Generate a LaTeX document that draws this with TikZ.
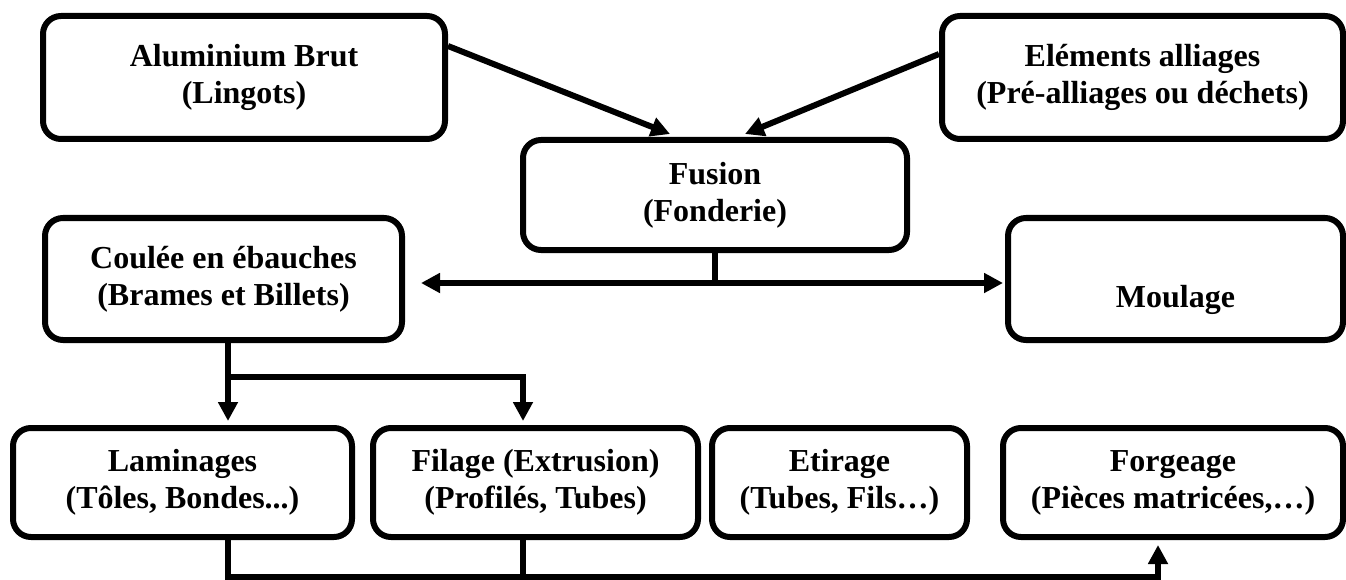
\documentclass[tikz,border=0pt]{standalone}
\usepackage{fontspec}
\setmainfont{Liberation Serif}
\usetikzlibrary{arrows.meta,calc}
\begin{document}
\begin{tikzpicture}[x=1pt,y=-1pt,
  box/.style={draw, line width=6pt, rounded corners=18pt, align=center,
    font=\bfseries\fontsize{32}{37}\selectfont, inner sep=0pt},
  conn/.style={line width=6pt},
  arr/.style={conn, -{Triangle[length=19pt,width=19pt]}},
]
\fill[white] (0,0) rectangle (1346,580);
\useasboundingbox (0,0) rectangle (1346,580);

\node[box, minimum width=402pt, minimum height=123pt] (alu) at (244,77.5) {Aluminium Brut\\(Lingots)};
\node[box, minimum width=401pt, minimum height=123pt] (elem) at (1142.5,77.5) {Eléments alliages\\(Pré-alliages ou déchets)};
\node[box, minimum width=384pt, minimum height=110pt] (fusion) at (715,195) {Fusion\\(Fonderie)};
\node[box, minimum width=357pt, minimum height=122pt] (coulee) at (223.5,279) {Coulée en ébauches\\(Brames et Billets)};
\node[box, minimum width=335pt, minimum height=122pt] (moulage) at (1175.5,279) {\mbox{}\\[28pt]Moulage};
\node[box, minimum width=339pt, minimum height=109pt] (lam) at (182.5,482.5) {Laminages\\(Tôles, Bondes...)};
\node[box, minimum width=325pt, minimum height=109pt] (fil) at (535.5,482.5) {Filage (Extrusion)\\(Profilés, Tubes)};
\node[box, minimum width=255pt, minimum height=109pt] (eti) at (839.5,482.5) {Etirage\\(Tubes, Fils…)};
\node[box, minimum width=340pt, minimum height=109pt] (forg) at (1173,482.5) {Forgeage\\(Pièces matricées,…)};

% top arrows into Fusion
\draw[arr] ($(alu.north east)+(0,33)$) -- ([xshift=-45pt,yshift=3pt]fusion.north);
\draw[arr] ($(elem.north west)+(0,41)$) -- ([xshift=30pt,yshift=3pt]fusion.north);

% Fusion split
\coordinate (j) at (715,283);
\draw[conn] (fusion.south) -- (j);
\draw[arr] (j) -- ([xshift=16pt]coulee.east |- j);
\draw[arr] (j) -- ([xshift=-2pt]moulage.west |- j);

% Coulee split
\coordinate (s1) at (228,377);
\coordinate (s2) at (523,377);
\draw[conn] (s1 |- coulee.south) -- (s1);
\draw[arr] (s1) -- ([yshift=4pt]s1 |- lam.north);
\draw[arr] (s1) -- (s2) -- ([yshift=4pt]s2 |- fil.north);

% bottom collector
\coordinate (b1) at (228,577);
\coordinate (b3) at (1158,577);
\draw[arr] (b1 |- lam.south) -- (b1) -- (b3) -- ([yshift=-5pt]b3 |- forg.south);
\draw[conn] (s2 |- fil.south) -- (s2 |- b1);
\end{tikzpicture}
\end{document}
